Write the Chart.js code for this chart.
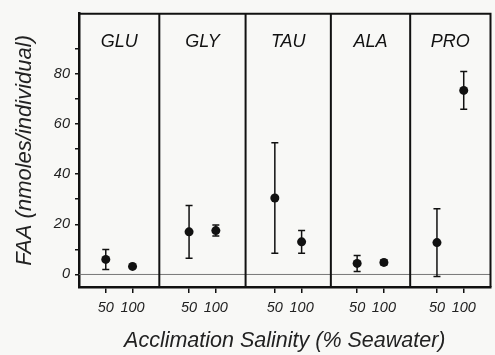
<!DOCTYPE html>
<html>
<head>
<meta charset="utf-8">
<script src="https://cdn.jsdelivr.net/npm/chart.js@4.4.1/dist/chart.umd.min.js"></script>
<style>
  body { margin: 0; background: #f8f8f6; }
  #box { width: 495px; height: 355px; }
</style>
</head>
<body>
<div id="box"><canvas id="graphe"></canvas></div>
<script>
// Acides aminés libres (FAA) selon la salinité d'acclimatation
var acides = ['GLU', 'GLY', 'TAU', 'ALA', 'PRO'];
var salinites = ['50', '100'];
var moyennes50 = [6, 17, 30.5, 4.4, 12.7];
var erreurs50 = [4, 10.5, 22, 3.2, 13.5];
var moyennes100 = [3.2, 17.5, 13, 4.8, 73.4];
var erreurs100 = [0.6, 2.2, 4.5, 1, 7.5];
var yTicks = [0, 20, 40, 60, 80];

// mise en page : bords des panneaux (unités de l'axe x) et écart des deux salinités
var bornes = [0, 81, 168, 254, 334, 415];
var ecart = [-13.5, 13.5];

function centre(i) { return (bornes[i] + bornes[i + 1]) / 2; }

function points(moy, err, d) {
  return acides.map(function (a, i) {
    return { x: centre(i) + ecart[d], y: moy[i], e: err[i] };
  });
}

var police = "'Liberation Sans', Arial, sans-serif";

// barres d'erreur, séparateurs de panneaux, ligne zéro, noms
var decor = {
  id: 'decor',
  beforeDatasetsDraw: function (chart) {
    var c = chart.ctx, a = chart.chartArea;
    var x = chart.scales.x, y = chart.scales.y;
    c.save();
    // ligne du zéro
    c.strokeStyle = '#777';
    c.lineWidth = 1;
    c.beginPath();
    c.moveTo(a.left, y.getPixelForValue(0));
    c.lineTo(a.right, y.getPixelForValue(0));
    c.stroke();
    // séparateurs
    c.strokeStyle = '#111';
    c.lineWidth = 2;
    for (var i = 1; i < acides.length; i++) {
      var px = x.getPixelForValue(bornes[i]);
      c.beginPath();
      c.moveTo(px, a.top);
      c.lineTo(px, a.bottom);
      c.stroke();
    }
    // cadre haut et droite
    c.beginPath();
    c.moveTo(a.left, a.top);
    c.lineTo(a.right, a.top);
    c.lineTo(a.right, a.bottom);
    c.stroke();
    // noms des acides
    c.fillStyle = '#111';
    c.font = 'italic 18px ' + police;
    c.textAlign = 'center';
    c.textBaseline = 'middle';
    acides.forEach(function (nom, i) {
      c.fillText(nom, x.getPixelForValue(centre(i)), a.top + 28);
    });
    // barres d'erreur
    c.lineWidth = 1.5;
    chart.data.datasets.forEach(function (ds) {
      ds.data.forEach(function (p) {
        var px = x.getPixelForValue(p.x);
        var haut = y.getPixelForValue(p.y + p.e);
        var bas = y.getPixelForValue(p.y - p.e);
        c.beginPath();
        c.moveTo(px, haut); c.lineTo(px, bas);
        c.moveTo(px - 3.5, haut); c.lineTo(px + 3.5, haut);
        c.moveTo(px - 3.5, bas); c.lineTo(px + 3.5, bas);
        c.stroke();
      });
    });
    c.restore();
  }
};

var ctx = document.getElementById('graphe').getContext('2d');
new Chart(ctx, {
  type: 'scatter',
  data: {
    datasets: [
      { label: '50', data: points(moyennes50, erreurs50, 0) },
      { label: '100', data: points(moyennes100, erreurs100, 1) }
    ]
  },
  options: {
    responsive: true,
    maintainAspectRatio: false,
    animation: false,
    layout: { padding: { top: 12, right: 1, left: 0, bottom: 0 } },
    elements: {
      point: { radius: 4.5, backgroundColor: '#111', borderColor: '#111', borderWidth: 0 }
    },
    plugins: {
      legend: { display: false },
      tooltip: { enabled: false }
    },
    scales: {
      x: {
        type: 'linear',
        min: bornes[0],
        max: bornes[bornes.length - 1],
        afterFit: function (s) { s.height = 68; },
        afterBuildTicks: function (s) {
          var t = [];
          acides.forEach(function (a, i) {
            salinites.forEach(function (sal, d) { t.push({ value: centre(i) + ecart[d] }); });
          });
          s.ticks = t;
        },
        ticks: {
          autoSkip: false,
          maxRotation: 0,
          padding: 6,
          color: '#222',
          font: { family: police, size: 14.5, style: 'italic' },
          callback: function (v, idx) { return salinites[idx % salinites.length]; }
        },
        grid: { drawOnChartArea: false, tickLength: 6, color: '#111', lineWidth: 1.5 },
        border: { color: '#111', width: 2.5 },
        title: {
          display: true,
          text: 'Acclimation Salinity (% Seawater)',
          color: '#222',
          padding: { top: 0, bottom: 1 },
          font: { family: police, size: 21.5, style: 'italic' }
        }
      },
      y: {
        min: -5,
        max: 104,
        afterFit: function (s) { s.width = 79; },
        afterBuildTicks: function (s) {
          var t = [];
          for (var v = 0; v <= 90; v += 10) t.push({ value: v });
          s.ticks = t;
        },
        ticks: {
          padding: 5,
          color: '#222',
          font: { family: police, size: 14.5, style: 'italic' },
          callback: function (v) { return yTicks.indexOf(v) >= 0 ? v : ''; }
        },
        grid: { drawOnChartArea: false, tickLength: 4, color: '#111', lineWidth: 1.5 },
        border: { color: '#111', width: 2.5 },
        title: {
          display: true,
          text: 'FAA (nmoles/individual)',
          color: '#222',
          padding: { top: 12, bottom: 0 },
          font: { family: police, size: 22, style: 'italic' }
        }
      }
    }
  },
  plugins: [decor]
});
</script>
</body>
</html>
